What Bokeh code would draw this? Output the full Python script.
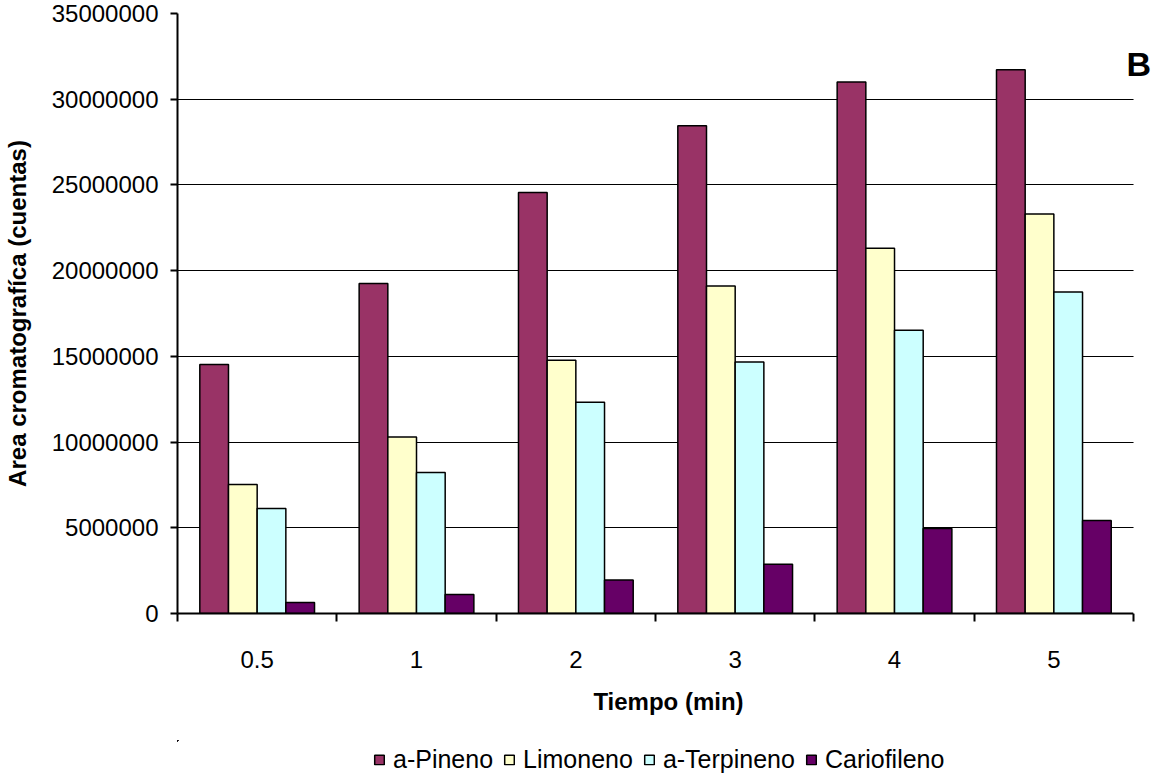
from bokeh.plotting import figure
from bokeh.layouts import column
from bokeh.models import (Range1d, FixedTicker, BasicTickFormatter, Legend,
                          LegendItem, Label, ColumnDataSource, BoxAnnotation)
from bokeh.embed import file_html
from bokeh.resources import INLINE

# ---- data ----
tiempos = ["0.5", "1", "2", "3", "4", "5"]
series = ["a-Pineno", "Limoneno", "a-Terpineno", "Cariofileno"]
a_pineno = [14530000, 19250000, 24560000, 28450000, 31000000, 31720000]
limoneno = [7530000, 10300000, 14780000, 19100000, 21300000, 23300000]
a_terpineno = [6130000, 8230000, 12330000, 14670000, 16530000, 18750000]
cariofileno = [640000, 1110000, 1950000, 2880000, 4960000, 5430000]
colores = ["#993366", "#FFFFCC", "#CCFFFF", "#660066"]
y_ticks = [0, 5000000, 10000000, 15000000, 20000000, 25000000, 30000000, 35000000]

valores = [a_pineno, limoneno, a_terpineno, cariofileno]
FONT = "Liberation Sans"
FS = "24px"

n = len(tiempos)
centros = [i + 0.5 for i in range(n)]
limites = list(range(n + 1))
bar_w = 0.18
offsets = [(-1.5 + k) * bar_w for k in range(len(series))]
x_end = n * 983 / 957  # frame reaches the right edge; axis stops at n

p = figure(width=1159, height=740, output_backend="svg", toolbar_location=None,
           x_range=Range1d(0, x_end), y_range=Range1d(0, 35000000),
           min_border_left=176, min_border_right=0, min_border_top=13,
           min_border_bottom=127)
p.outline_line_color = None
p.background_fill_color = "white"

sources = []
for s, vals, col, off in zip(series, valores, colores, offsets):
    src = ColumnDataSource(dict(x=[c + off for c in centros], top=vals))
    sources.append(src)
    p.vbar(x="x", top="top", width=bar_w, source=src, fill_color=col,
           line_color="black", line_width=1.5)

# y axis
p.yaxis.ticker = FixedTicker(ticks=y_ticks)
p.yaxis.formatter = BasicTickFormatter(use_scientific=False)
p.yaxis.axis_label = "Area cromatografíca (cuentas)"
p.yaxis.axis_label_text_font = FONT
p.yaxis.axis_label_text_font_style = "bold"
p.yaxis.axis_label_text_font_size = FS
p.yaxis.axis_label_text_color = "black"
p.yaxis.axis_label_standoff = 18
p.yaxis.major_label_text_font = FONT
p.yaxis.major_label_text_font_size = FS
p.yaxis.major_label_text_color = "black"
p.yaxis.major_label_standoff = 12
p.yaxis.major_tick_out = 7
p.yaxis.major_tick_in = 0
p.yaxis.major_tick_line_width = 2
p.yaxis.major_tick_line_color = "black"
p.yaxis.minor_tick_line_color = None
p.yaxis.axis_line_width = 2
p.yaxis.axis_line_color = "black"

# x axis
p.xaxis.ticker = FixedTicker(ticks=centros, minor_ticks=limites)
p.xaxis.bounds = (0, n)
p.xaxis.major_label_overrides = {c: t for c, t in zip(centros, tiempos)}
p.xaxis.axis_label = "Tiempo (min)"
p.xaxis.axis_label_text_font = FONT
p.xaxis.axis_label_text_font_style = "bold"
p.xaxis.axis_label_text_font_size = FS
p.xaxis.axis_label_text_color = "black"
p.xaxis.axis_label_standoff = 17
p.xaxis.major_label_text_font = FONT
p.xaxis.major_label_text_font_size = FS
p.xaxis.major_label_text_color = "black"
p.xaxis.major_label_standoff = 29
p.xaxis.major_tick_out = 8
p.xaxis.major_tick_in = 0
p.xaxis.major_tick_line_color = None
p.xaxis.minor_tick_out = 8
p.xaxis.minor_tick_in = 0
p.xaxis.minor_tick_line_width = 2
p.xaxis.minor_tick_line_color = "black"
p.xaxis.axis_line_width = 2
p.xaxis.axis_line_color = "black"

# grid
p.xgrid.grid_line_color = None
p.ygrid.ticker = FixedTicker(ticks=y_ticks)
p.ygrid.grid_line_color = "black"
p.ygrid.grid_line_width = 1

# blank strip right of the last category (grid ends with the axis)
p.add_layout(BoxAnnotation(left=n, fill_color="white", fill_alpha=1,
                           line_color=None))

p.add_layout(Label(x=5.956, y=32030000, text="B", text_font=FONT,
                   text_font_style="bold", text_font_size="34px",
                   text_color="black",
                   text_baseline="alphabetic", text_align="left"))

# ---- legend strip (same sources, bars kept out of its view) ----
pl = figure(width=1159, height=38, output_backend="svg", toolbar_location=None,
            x_range=Range1d(100, 101), y_range=Range1d(-2, -1),
            x_axis_location=None, y_axis_location=None,
            min_border_left=176, min_border_right=0, min_border_top=0,
            min_border_bottom=0)
pl.outline_line_color = None
pl.xgrid.visible = False
pl.ygrid.visible = False
items = []
for s, col, src in zip(series, colores, sources):
    r = pl.vbar(x="x", top="top", width=bar_w, source=src,
                fill_color=col, line_color="black", line_width=1.5)
    items.append(LegendItem(label=s, renderers=[r]))
legend = Legend(items=items, orientation="horizontal", location="left",
                border_line_color=None, background_fill_alpha=0,
                label_text_font=FONT, label_text_font_size="25px",
                label_text_color="black",
                glyph_width=12, glyph_height=12, label_standoff=8, spacing=10,
                padding=0, margin=196)
pl.add_layout(legend)

layout = column(p, pl, spacing=0)
open("out.html", "w").write(file_html(layout, INLINE))
